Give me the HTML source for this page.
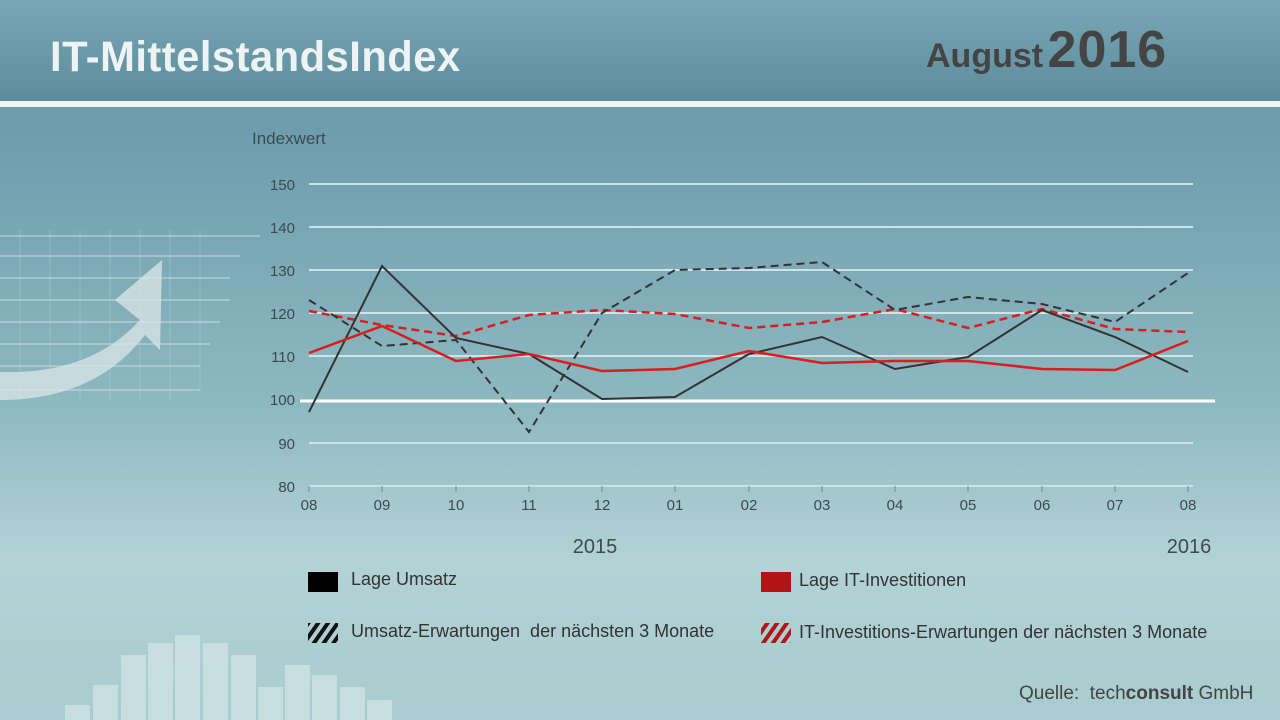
<!DOCTYPE html>
<html><head><meta charset="utf-8"><style>
html,body{margin:0;padding:0}
body{width:1280px;height:720px;overflow:hidden;position:relative;font-family:"Liberation Sans",sans-serif;
background:linear-gradient(180deg,#6a9aaa 0px,#6f9fae 150px,#8db8c0 400px,#b2d2d6 560px,#a8cccf 720px)}
.hdr{position:absolute;left:0;top:0;width:1280px;height:101px;background:linear-gradient(180deg,#78a7b5,#5d8d9d)}
.line{position:absolute;left:0;top:101px;width:1280px;height:6px;background:#f2f5f5}
.title{position:absolute;left:50px;top:33px;font-size:43px;font-weight:bold;color:#eef3f3;letter-spacing:0.5px;transform:scaleX(0.97);transform-origin:left;white-space:nowrap}
.date{position:absolute;left:926px;top:20px;color:#444;font-weight:bold;white-space:nowrap}
.leg{position:absolute;font-size:18px;color:#333;white-space:nowrap}
</style></head><body>
<div class="hdr"></div><div class="line"></div>
<div class="title">IT-MittelstandsIndex</div>
<div class="date"><span style="font-size:34px">August</span> <span style="font-size:52px;letter-spacing:1px">2016</span></div>
<svg width="1280" height="720" style="position:absolute;left:0;top:0">
<g stroke="#c8dde0" stroke-width="2" opacity="0.5">
<line x1="0" y1="236" x2="260" y2="236"/><line x1="0" y1="256" x2="240" y2="256"/><line x1="0" y1="278" x2="230" y2="278"/><line x1="0" y1="300" x2="230" y2="300"/><line x1="0" y1="322" x2="220" y2="322"/><line x1="0" y1="344" x2="210" y2="344"/><line x1="0" y1="366" x2="200" y2="366"/><line x1="0" y1="390" x2="200" y2="390"/>
</g>
<g stroke="#c8dde0" stroke-width="1" opacity="0.3">
<line x1="20" y1="230" x2="20" y2="400"/><line x1="50" y1="230" x2="50" y2="400"/><line x1="80" y1="230" x2="80" y2="400"/><line x1="110" y1="230" x2="110" y2="400"/><line x1="140" y1="230" x2="140" y2="400"/><line x1="170" y1="230" x2="170" y2="400"/><line x1="200" y1="230" x2="200" y2="390"/>
</g>
<path d="M0 372 Q90 375 140 320 L115 300 L162 260 L160 350 L145 335 Q95 400 0 400 Z" fill="#d6e4e6" opacity="0.8"/>
<g fill="#cfe3e5" opacity="0.8">
<rect x="65" y="705" width="25" height="15"/><rect x="93" y="685" width="25" height="35"/><rect x="121" y="655" width="25" height="65"/><rect x="148" y="643" width="25" height="77"/><rect x="175" y="635" width="25" height="85"/><rect x="203" y="643" width="25" height="77"/><rect x="231" y="655" width="25" height="65"/><rect x="258" y="687" width="25" height="33"/><rect x="285" y="665" width="25" height="55"/><rect x="312" y="675" width="25" height="45"/><rect x="340" y="687" width="25" height="33"/><rect x="367" y="700" width="25" height="20"/>
</g>
<text x="252" y="144" font-size="17" fill="#3d4a50">Indexwert</text>
<g stroke="#cfe2e6" stroke-width="2">
<line x1="309" y1="184" x2="1193" y2="184"/><line x1="309" y1="227" x2="1193" y2="227"/><line x1="309" y1="270" x2="1193" y2="270"/><line x1="309" y1="313" x2="1193" y2="313"/><line x1="309" y1="356" x2="1193" y2="356"/><line x1="309" y1="443" x2="1193" y2="443"/><line x1="309" y1="486" x2="1193" y2="486"/>
</g>
<g stroke="#6b8a90" stroke-width="1"><line x1="309" y1="486" x2="309" y2="492"/><line x1="382" y1="486" x2="382" y2="492"/><line x1="456" y1="486" x2="456" y2="492"/><line x1="529" y1="486" x2="529" y2="492"/><line x1="602" y1="486" x2="602" y2="492"/><line x1="675" y1="486" x2="675" y2="492"/><line x1="749" y1="486" x2="749" y2="492"/><line x1="822" y1="486" x2="822" y2="492"/><line x1="895" y1="486" x2="895" y2="492"/><line x1="968" y1="486" x2="968" y2="492"/><line x1="1042" y1="486" x2="1042" y2="492"/><line x1="1115" y1="486" x2="1115" y2="492"/><line x1="1188" y1="486" x2="1188" y2="492"/></g>
<line x1="300" y1="401" x2="1215" y2="401" stroke="#fff" stroke-width="3"/>
<g font-size="15" fill="#3d4a50" text-anchor="end">
<text x="295" y="190">150</text><text x="295" y="233">140</text><text x="295" y="276">130</text><text x="295" y="319">120</text><text x="295" y="362">110</text><text x="295" y="405">100</text><text x="295" y="449">90</text><text x="295" y="492">80</text>
</g>
<g font-size="15" fill="#3d4a50" text-anchor="middle">
<text x="309" y="510">08</text><text x="382" y="510">09</text><text x="456" y="510">10</text><text x="529" y="510">11</text><text x="602" y="510">12</text><text x="675" y="510">01</text><text x="749" y="510">02</text><text x="822" y="510">03</text><text x="895" y="510">04</text><text x="968" y="510">05</text><text x="1042" y="510">06</text><text x="1115" y="510">07</text><text x="1188" y="510">08</text>
<text x="595" y="553" font-size="20">2015</text><text x="1189" y="553" font-size="20">2016</text>
</g>
<g fill="none" stroke-width="2.5">
<polyline stroke="#d81e1e" stroke-dasharray="8,5" points="309,311 382,325 456,336 529,315 602,310 675,314 749,328 822,322 895,309 968,328 1042,309 1115,329 1188,332"/>
<polyline stroke="#333" stroke-width="2" stroke-dasharray="8,5" points="309,300 382,346 456,340 529,432 602,313 675,270 749,268 822,262 895,310 968,297 1042,304 1115,322 1188,273"/>
<polyline stroke="#333" stroke-width="2" points="309,412 382,266 456,338 529,354 602,399 675,397 749,354 822,337 895,369 968,357 1042,310 1115,337 1188,372"/>
<polyline stroke="#d81e1e" points="309,353 382,326 456,361 529,354 602,371 675,369 749,351 822,363 895,361 968,361 1042,369 1115,370 1188,341"/>
</g>
<defs>
<pattern id="hb" width="8" height="8" patternUnits="userSpaceOnUse" patternTransform="rotate(35)"><rect width="4" height="8" fill="#111"/></pattern>
<pattern id="hr" width="8" height="8" patternUnits="userSpaceOnUse" patternTransform="rotate(35)"><rect width="4" height="8" fill="#b01818"/></pattern>
</defs>
<rect x="308" y="572" width="30" height="20" fill="#000"/>
<rect x="761" y="572" width="30" height="20" fill="#b01414"/>
<rect x="308" y="623" width="30" height="20" fill="url(#hb)"/>
<rect x="761" y="623" width="30" height="20" fill="url(#hr)"/>
</svg>
<div class="leg" style="left:351px;top:569px">Lage Umsatz</div>
<div class="leg" style="left:799px;top:570px">Lage IT-Investitionen</div>
<div class="leg" style="left:351px;top:621px">Umsatz-Erwartungen&nbsp; der nächsten 3 Monate</div>
<div class="leg" style="left:799px;top:622px">IT-Investitions-Erwartungen der nächsten 3 Monate</div>
<div class="leg" style="left:1019px;top:683px;color:#444;font-size:19px">Quelle:&nbsp; tech<b>consult</b> GmbH</div>
</body></html>
